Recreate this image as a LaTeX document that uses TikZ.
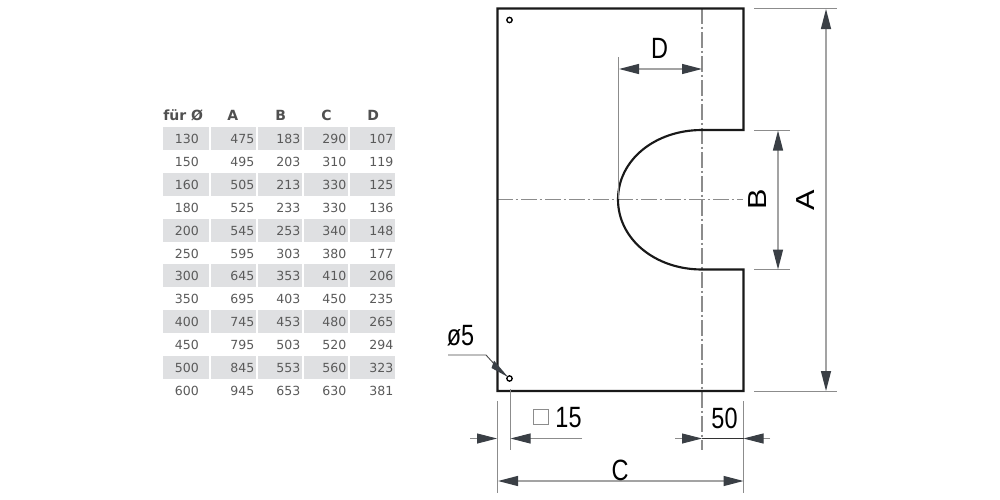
\documentclass[tikz,border=0pt]{standalone}
\usepackage{fontspec}
\setmainfont{DejaVu Sans}
\newfontfamily\dimfont{Liberation Sans}
\usetikzlibrary{arrows.meta}
\definecolor{cellgray}{HTML}{DFE0E2}
\definecolor{tabtext}{HTML}{5A5A5A}
\definecolor{headtext}{HTML}{505050}
\definecolor{dimline}{HTML}{8C8C8C}
\definecolor{tipcol}{HTML}{3A3F45}
\tikzset{
  x=0.75pt,y=-0.75pt,
  outline/.style={line width=1.6pt,draw=black!90},
  axisline/.style={line width=0.8pt,draw=dimline,dash pattern=on 12pt off 2pt on 2pt off 2pt},
  extline/.style={line width=0.7pt,draw=dimline},
  tipa/.style={-{Triangle[length=15pt,width=7.5pt,color=tipcol]}},
  dimarrow/.style={line width=1pt,draw=dimline!80,{Triangle[length=15pt,width=7.5pt,color=tipcol]}-{Triangle[length=15pt,width=7.5pt,color=tipcol]}},
  dimlabel/.style={font=\dimfont\fontsize{22}{22}\selectfont,inner sep=0pt,xscale=.8,transform shape},
  dimlabelrot/.style={font=\dimfont\fontsize{23}{23}\selectfont,inner sep=0pt,rotate=90,yscale=.85,transform shape},
  cellnum/.style={font=\fontsize{9.4}{10}\selectfont,text=tabtext,anchor=east,inner sep=0pt},
  cellhead/.style={font=\bfseries\fontsize{10.5}{11}\selectfont,text=headtext,anchor=west,inner sep=0pt},
  hole/.style={circle,draw=black,line width=1pt,minimum size=4pt,inner sep=0pt,fill=white},
}
\begin{document}
\begin{tikzpicture}
\useasboundingbox (0,0) rectangle (1000,500);
\fill[white] (0,0) rectangle (1000,500);
% table header
\node[cellhead] (h0) at (163,115.5) {für Ø};
\node[cellhead] (h1) at (227,115.5) {A};
\node[cellhead] (h2) at (275,115.5) {B};
\node[cellhead] (h3) at (321,115.5) {C};
\node[cellhead] (h4) at (367,115.5) {D};
% table rows
\foreach \i/\yy/\fo/\a/\b/\c/\d in {
 1/138/130/475/183/290/107,
 2/161/150/495/203/310/119,
 3/184/160/505/213/330/125,
 4/207/180/525/233/330/136,
 5/230/200/545/253/340/148,
 6/253/250/595/303/380/177,
 7/275/300/645/353/410/206,
 8/298/350/695/403/450/235,
 9/321/400/745/453/480/265,
 10/344/450/795/503/520/294,
 11/367/500/845/553/560/323,
 12/390/600/945/653/630/381}{
  \ifodd\i
    \fill[cellgray] (163,\yy-11) rectangle (209,\yy+11.5);
    \fill[cellgray] (211,\yy-11) rectangle (255.5,\yy+11.5);
    \fill[cellgray] (257.5,\yy-11) rectangle (302,\yy+11.5);
    \fill[cellgray] (304,\yy-11) rectangle (348,\yy+11.5);
    \fill[cellgray] (350,\yy-11) rectangle (395,\yy+11.5);
  \fi
  \node[cellnum] (f\i) at (199,\yy+0.7) {\fo};
  \node[cellnum] (a\i) at (254.5,\yy+0.7) {\a};
  \node[cellnum] (b\i) at (300.5,\yy+0.7) {\b};
  \node[cellnum] (c\i) at (346.5,\yy+0.7) {\c};
  \node[cellnum] (d\i) at (393.5,\yy+0.7) {\d};
}
% centre lines
\draw[axisline] (497,199.5) -- (743,199.5);
\draw[axisline] (702,8) -- (702,450);
% outline
\draw[outline,line join=miter] (497.5,8.5) -- (743.5,8.5) -- (743.5,130) -- (702,130)
  .. controls (655,130) and (618,160) .. (618,199.5)
  .. controls (618,239) and (655,269.5) .. (702,269.5)
  -- (743.5,269.5) -- (743.5,391) -- (497.5,391) -- cycle;
% holes
\node[hole] (h-top) at (509.5,20) {};
\node[hole] (h-bot) at (509.5,378.5) {};
% extension lines
\coordinate (extA1) at (754,8.5); \coordinate (extA2) at (837,8.5);
\coordinate (extA3) at (754,391); \coordinate (extA4) at (837,391);
\draw[extline] (extA1) -- (extA2);
\draw[extline] (extA3) -- (extA4);
\coordinate (extB1) at (754,130); \coordinate (extB2) at (790,130);
\coordinate (extB3) at (754,269.5); \coordinate (extB4) at (790,269.5);
\draw[extline] (extB1) -- (extB2);
\draw[extline] (extB3) -- (extB4);
\coordinate (extD1) at (618.5,57); \coordinate (extD2) at (618.5,199);
\draw[extline] (extD1) -- (extD2);
\coordinate (ext1a) at (497.5,401); \coordinate (ext1b) at (497.5,493);
\draw[extline] (ext1a) -- (ext1b);
\coordinate (ext2a) at (510,389); \coordinate (ext2b) at (510,450);
\draw[extline] (ext2a) -- (ext2b);
\coordinate (ext3a) at (743.5,401); \coordinate (ext3b) at (743.5,493);
\draw[extline] (ext3a) -- (ext3b);
% dimension arrows
\coordinate (A1) at (826,9); \coordinate (A2) at (826,391);
\draw[dimarrow] (A1) -- (A2);
\coordinate (B1) at (778,130.5); \coordinate (B2) at (778,269.5);
\draw[dimarrow] (B1) -- (B2);
\coordinate (D1) at (619,69); \coordinate (D2) at (702,69);
\draw[dimarrow] (D1) -- (D2);
\coordinate (C1) at (498,481); \coordinate (C2) at (743.5,481);
\draw[dimarrow] (C1) -- (C2);
% outside arrows
\coordinate (o1) at (470,438.5); \coordinate (o1t) at (497,438.5);
\coordinate (o2) at (582,438.5); \coordinate (o2t) at (510.5,438.5);
\draw[extline,tipa] (o1) -- (o1t);
\draw[extline,tipa] (o2) -- (o2t);
\coordinate (o3) at (675,438.5); \coordinate (o3t) at (702,438.5);
\coordinate (o4) at (770,438.5); \coordinate (o4t) at (743.5,438.5);
\draw[extline,tipa] (o3) -- (o3t);
\draw[extline,tipa] (o4) -- (o4t);
\draw[extline,draw=black!80] (702,438.5) -- (743.5,438.5);
% leader of the hole
\coordinate (lead0) at (448,355); \coordinate (lead1) at (486,355);
\coordinate (lead2) at (496,366);
\draw[extline,draw=black!70] (lead0) -- (lead1) -- (lead2);
\fill[tipcol] (494,360.5) -- (491.5,368) -- (508,377) -- cycle;
% labels
\node[dimlabel] (lD) at (659.5,48.5) {D};
\node[dimlabel] (lC) at (620,470) {C};
\node[dimlabelrot] (lB) at (758,199.5) {B};
\node[dimlabelrot] (lA) at (806,200) {A};
\node[dimlabel] (l50) at (724.5,418) {50};
\node[dimlabel] (l15) at (568.5,418) {15};
\node[dimlabel] (l5) at (460.5,336) {ø5};
\node[draw=dimline,line width=0.7pt,minimum size=11.3pt,inner sep=0pt] (sq) at (541,416.5) {};
\end{tikzpicture}
\end{document}
